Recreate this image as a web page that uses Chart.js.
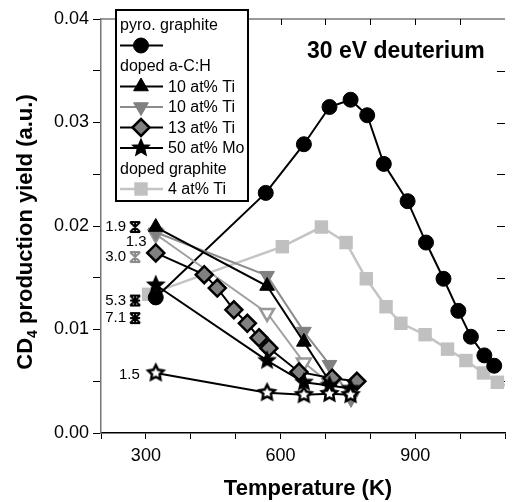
<!DOCTYPE html>
<html>
<head>
<meta charset="utf-8">
<script src="https://cdn.jsdelivr.net/npm/chart.js@4.4.1/dist/chart.umd.min.js"></script>
<style>
  html, body { margin: 0; padding: 0; background: #fff; }
</style>
</head>
<body>
<canvas id="grafica" width="516" height="502"></canvas>
<script>
// Datos (temperatura en K, rendimiento en u.a.)
const pyroT = [322, 567, 652, 709, 756, 793, 830, 883, 924, 963, 996, 1024, 1054, 1076];
const pyroY = [0.0131, 0.0232, 0.0279, 0.0315, 0.0322, 0.0307, 0.0260, 0.0224, 0.0184, 0.0149, 0.0118, 0.0093, 0.0075, 0.0065];

const tiBlackT = [322, 570, 652, 709];
const tiBlackY = [0.0199, 0.0142, 0.0088, 0.0050];

const tiGrayT = [322, 570, 652, 709, 757];
const tiGrayY = [0.0194, 0.0152, 0.0098, 0.0066, 0.0033];

const tiOpenT = [322, 570, 652, 709];
const tiOpenY = [0.0192, 0.0116, 0.0068, 0.0048];

const ti13T = [322, 430, 459, 496, 526, 552, 574, 641, 715, 770];
const ti13Y = [0.0174, 0.0153, 0.0140, 0.0119, 0.0106, 0.0092, 0.0082, 0.0059, 0.0053, 0.0050];

const moT = [322, 570, 652, 709, 756];
const moY = [0.0143, 0.0070, 0.0049, 0.0046, 0.0043];

const moOpenT = [322, 570, 652, 709, 756];
const moOpenY = [0.0058, 0.0039, 0.0037, 0.0038, 0.0037];

const graphT = [306, 604, 691, 746, 791, 835, 868, 922, 972, 1013, 1052, 1083, 1120];
const graphY = [0.0134, 0.0180, 0.0199, 0.0184, 0.0149, 0.0122, 0.0106, 0.0095, 0.0081, 0.0070, 0.0058, 0.0049, 0.0043];

// marcas de cruz a 276 K
const crossT = [276];
const crossY = [0.0199];
const crossDenseT = [276, 276];
const crossDenseY = [0.0128, 0.0111];
const crossGrayT = [276];
const crossGrayY = [0.0170];

// etiquetas numéricas junto a los puntos
const noteTexts = ['1.9', '1.3', '3.0', '5.3', '7.1', '1.5'];
const noteT = [276, 276, 276, 276, 276, 322];
const noteY = [0.0199, 0.0199, 0.0170, 0.0128, 0.0111, 0.0058];

const xTickLabels = [300, 600, 900];
const yTickLabels = [0, 0.01, 0.02, 0.03, 0.04];

const legendRows = [
    { text: 'pyro. graphite' },
    { ds: 'pyro', text: '' },
    { text: 'doped a-C:H' },
    { ds: 'tiBlack', text: '10 at% Ti' },
    { ds: 'tiGray', text: '10 at% Ti' },
    { ds: 'ti13', text: '13 at% Ti' },
    { ds: 'mo', text: '50 at% Mo' },
    { text: 'doped graphite' },
    { ds: 'graph', text: '4 at% Ti' }
];

const FONT = "'Liberation Sans', Arial, Helvetica, sans-serif";
Chart.defaults.font.family = FONT;
Chart.defaults.color = '#000';

function toPoints(xs, ys) {
    return xs.map((x, i) => ({ x: x, y: ys[i] }));
}

// Estrella de cinco puntas
function makeStar(fill, stroke, r, inner, lw) {
    const c = document.createElement('canvas');
    const s = Math.ceil(2 * r + 2 * lw + 2);
    c.width = s; c.height = s;
    const g = c.getContext('2d');
    g.beginPath();
    for (let i = 0; i < 10; i++) {
        const a = -Math.PI / 2 + i * Math.PI / 5;
        const rr = i % 2 ? r * inner : r;
        g.lineTo(s / 2 + rr * Math.cos(a), s / 2 + rr * Math.sin(a));
    }
    g.closePath();
    g.fillStyle = fill;
    g.fill();
    g.lineJoin = 'miter';
    g.lineWidth = lw;
    g.strokeStyle = stroke;
    g.stroke();
    return c;
}

// Cruz tipo reloj de arena (dense = con cruz añadida)
function makeCross(color, dense) {
    const c = document.createElement('canvas');
    c.width = 14; c.height = 14;
    const g = c.getContext('2d');
    g.strokeStyle = color;
    g.lineWidth = 2;
    g.beginPath();
    g.moveTo(2, 2); g.lineTo(12, 12);
    g.moveTo(12, 2); g.lineTo(2, 12);
    g.moveTo(2, 2); g.lineTo(12, 2);
    g.moveTo(2, 12); g.lineTo(12, 12);
    g.moveTo(7, 3); g.lineTo(7, 11);
    if (dense) {
        g.moveTo(2, 7); g.lineTo(12, 7);
    }
    g.stroke();
    return c;
}

const starBlack = makeStar('#000', '#000', 8.5, 0.45, 1.5);
const starOpen = makeStar('#fff', '#000', 8, 0.5, 2.5);
const crossBlack = makeCross('#000', false);
const crossDense = makeCross('#000', true);
const crossGray = makeCross('#8a8a8a', false);

const datasets = [
    {
        id: 'moOpen', data: toPoints(moOpenT, moOpenY), showLine: true,
        borderColor: '#000', borderWidth: 2, pointStyle: starOpen, pointRadius: 8
    },
    {
        id: 'mo', data: toPoints(moT, moY), showLine: true,
        borderColor: '#000', borderWidth: 2, pointStyle: starBlack, pointRadius: 8
    },
    {
        id: 'ti13', data: toPoints(ti13T, ti13Y), showLine: true,
        borderColor: '#000', borderWidth: 2, pointStyle: 'rectRot', pointRadius: 8.5,
        pointBackgroundColor: '#808080', pointBorderColor: '#000', pointBorderWidth: 2.5
    },
    {
        id: 'tiBlack', data: toPoints(tiBlackT, tiBlackY), showLine: true,
        borderColor: '#000', borderWidth: 2, pointStyle: 'triangle', pointRadius: 8.5,
        pointBackgroundColor: '#000', pointBorderColor: '#000', pointBorderWidth: 1
    },
    {
        id: 'tiGray', data: toPoints(tiGrayT, tiGrayY), showLine: true,
        borderColor: '#8c8c8c', borderWidth: 2, pointStyle: 'triangle', pointRotation: 180, pointRadius: 8.5,
        pointBackgroundColor: '#808080', pointBorderColor: '#808080', pointBorderWidth: 1
    },
    {
        id: 'tiOpen', data: toPoints(tiOpenT, tiOpenY), showLine: true,
        borderColor: '#a0a0a0', borderWidth: 2, pointStyle: 'triangle', pointRotation: 180, pointRadius: 8,
        pointBackgroundColor: '#fff', pointBorderColor: '#999', pointBorderWidth: 2.5
    },
    {
        id: 'crossB', data: toPoints(crossT, crossY), showLine: false, pointStyle: crossBlack, pointRadius: 7
    },
    {
        id: 'crossD', data: toPoints(crossDenseT, crossDenseY), showLine: false, pointStyle: crossDense, pointRadius: 7
    },
    {
        id: 'crossG', data: toPoints(crossGrayT, crossGrayY), showLine: false, pointStyle: crossGray, pointRadius: 7
    },
    {
        id: 'pyro', data: toPoints(pyroT, pyroY), showLine: true,
        borderColor: '#000', borderWidth: 2, pointStyle: 'circle', pointRadius: 7.5,
        pointBackgroundColor: '#000', pointBorderColor: '#000', pointBorderWidth: 1
    },
    {
        id: 'graph', data: toPoints(graphT, graphY), showLine: true,
        borderColor: '#c4c4c4', borderWidth: 2.5, pointStyle: 'rect', pointRadius: 9.5,
        pointBackgroundColor: '#c0c0c0', pointBorderColor: '#c0c0c0', pointBorderWidth: 0
    }
];
datasets.forEach(d => { d.label = d.id; d.fill = false; d.tension = 0; });

function dsById(id) {
    return datasets.find(d => d.id === id);
}

// Dibuja un marcador con el estilo del dataset
function drawMarker(ctx, ds, x, y) {
    ctx.save();
    ctx.fillStyle = ds.pointBackgroundColor || '#000';
    ctx.strokeStyle = ds.pointBorderColor || '#000';
    ctx.lineWidth = ds.pointBorderWidth || 0;
    Chart.helpers.drawPoint(ctx, {
        pointStyle: ds.pointStyle,
        rotation: ds.pointRotation || 0,
        radius: ds.pointRadius,
        borderWidth: ds.pointBorderWidth || 0
    }, x, y);
    ctx.restore();
}

// Marco superior y derecho con marcas hacia dentro
const framePlugin = {
    id: 'frame',
    beforeDatasetsDraw(chart) {
        const { ctx, chartArea: a, scales } = chart;
        ctx.save();
        ctx.strokeStyle = '#777';
        ctx.lineWidth = 1.5;
        ctx.beginPath();
        ctx.moveTo(a.left, a.top);
        ctx.lineTo(a.right, a.top);
        ctx.stroke();
        ctx.strokeStyle = '#000';
        ctx.lineWidth = 1;
        ctx.beginPath();
        for (let t = 300; t < 1100; t += 100) {
            const px = Math.round(scales.x.getPixelForValue(t)) + 0.5;
            ctx.moveTo(px, a.top);
            ctx.lineTo(px, a.top + 6);
        }
        for (let v = 0.005; v < 0.04; v += 0.005) {
            const py = Math.round(scales.y.getPixelForValue(v)) + 0.5;
            ctx.moveTo(a.right, py);
            ctx.lineTo(a.right - 8, py);
        }
        ctx.stroke();
        ctx.restore();
    }
};

// Títulos de ejes, título interior, etiquetas y leyenda
const textPlugin = {
    id: 'texts',
    afterDraw(chart) {
        const { ctx, scales } = chart;
        ctx.save();

        // Etiquetas numéricas
        ctx.font = '15px ' + FONT;
        ctx.fillStyle = '#000';
        ctx.textBaseline = 'middle';
        const offs = [[-9, 0, 'right'], [1, 15, 'center'], [-9, 0, 'right'], [-9, 0, 'right'], [-9, 0, 'right'], [-16, 2, 'right']];
        noteTexts.forEach((t, i) => {
            const px = scales.x.getPixelForValue(noteT[i]) + offs[i][0];
            const py = scales.y.getPixelForValue(noteY[i]) + offs[i][1];
            ctx.textAlign = offs[i][2];
            ctx.fillText(t, px, py);
        });

        // Título interior
        ctx.font = 'bold 23px ' + FONT;
        ctx.textAlign = 'left';
        ctx.fillText('30 eV deuterium', 307, 52);

        // Título eje x
        ctx.font = 'bold 22px ' + FONT;
        ctx.textAlign = 'center';
        ctx.fillText('Temperature (K)', 308, 489);

        // Título eje y con subíndice
        ctx.textBaseline = 'alphabetic';
        ctx.translate(32, 232);
        ctx.rotate(-Math.PI / 2);
        const big = 'bold 22px ' + FONT;
        const small = 'bold 14px ' + FONT;
        const rest = ' production yield (a.u.)';
        ctx.font = big;
        const wCD = ctx.measureText('CD').width;
        const wRest = ctx.measureText(rest).width;
        ctx.font = small;
        const w4 = ctx.measureText('4').width;
        let x0 = -(wCD + w4 + wRest) / 2;
        ctx.textAlign = 'left';
        ctx.font = big;
        ctx.fillText('CD', x0, 0);
        ctx.font = small;
        ctx.fillText('4', x0 + wCD, 5);
        ctx.font = big;
        ctx.fillText(rest, x0 + wCD + w4, 0);
        ctx.setTransform(1, 0, 0, 1, 0, 0);

        // Leyenda
        const bx = 116, by = 10, bw = 132, bh = 191;
        ctx.fillStyle = '#fff';
        ctx.fillRect(bx, by, bw, bh);
        ctx.strokeStyle = '#000';
        ctx.lineWidth = 2;
        ctx.strokeRect(bx, by, bw, bh);
        ctx.font = '16px ' + FONT;
        ctx.textAlign = 'left';
        ctx.textBaseline = 'middle';
        legendRows.forEach((row, i) => {
            const y = 25 + i * 20.5;
            if (row.ds) {
                const ds = dsById(row.ds);
                ctx.strokeStyle = ds.borderColor;
                ctx.lineWidth = ds.borderWidth;
                ctx.beginPath();
                ctx.moveTo(120, y);
                ctx.lineTo(163, y);
                ctx.stroke();
                drawMarker(ctx, ds, 141, y);
                ctx.fillStyle = '#000';
                ctx.fillText(row.text, 168, y + 1);
            } else {
                ctx.fillStyle = '#000';
                ctx.fillText(row.text, 120, y + 1);
            }
        });
        ctx.restore();
    }
};

const ctx = document.getElementById('grafica').getContext('2d');
const grafica = new Chart(ctx, {
    type: 'scatter',
    data: { datasets: datasets },
    options: {
        responsive: false,
        animation: false,
        devicePixelRatio: 1,
        layout: { padding: { top: 19, right: 0, left: 0, bottom: 0 } },
        plugins: {
            legend: { display: false },
            tooltip: { enabled: false }
        },
        scales: {
            x: {
                type: 'linear',
                min: 200,
                max: 1100,
                afterFit: s => { s.height = 69; },
                ticks: {
                    stepSize: 100,
                    autoSkip: false,
                    maxRotation: 0,
                    padding: 6,
                    font: { size: 18 },
                    color: '#000',
                    callback: v => xTickLabels.includes(v) ? String(v) : ''
                },
                grid: { drawOnChartArea: false, drawTicks: true, tickLength: 6, color: '#000', lineWidth: 1 },
                border: { color: '#000', width: 1.5 }
            },
            y: {
                min: 0,
                max: 0.04,
                afterFit: s => { s.width = 101; },
                ticks: {
                    stepSize: 0.005,
                    autoSkip: false,
                    padding: 4,
                    font: { size: 18 },
                    color: '#000',
                    callback: v => yTickLabels.some(t => Math.abs(t - v) < 1e-9) ? v.toFixed(2) : ''
                },
                grid: { drawOnChartArea: false, drawTicks: true, tickLength: 8, color: '#000', lineWidth: 1 },
                border: { color: '#777', width: 1.5 }
            }
        }
    },
    plugins: [framePlugin, textPlugin]
});
</script>
</body>
</html>
